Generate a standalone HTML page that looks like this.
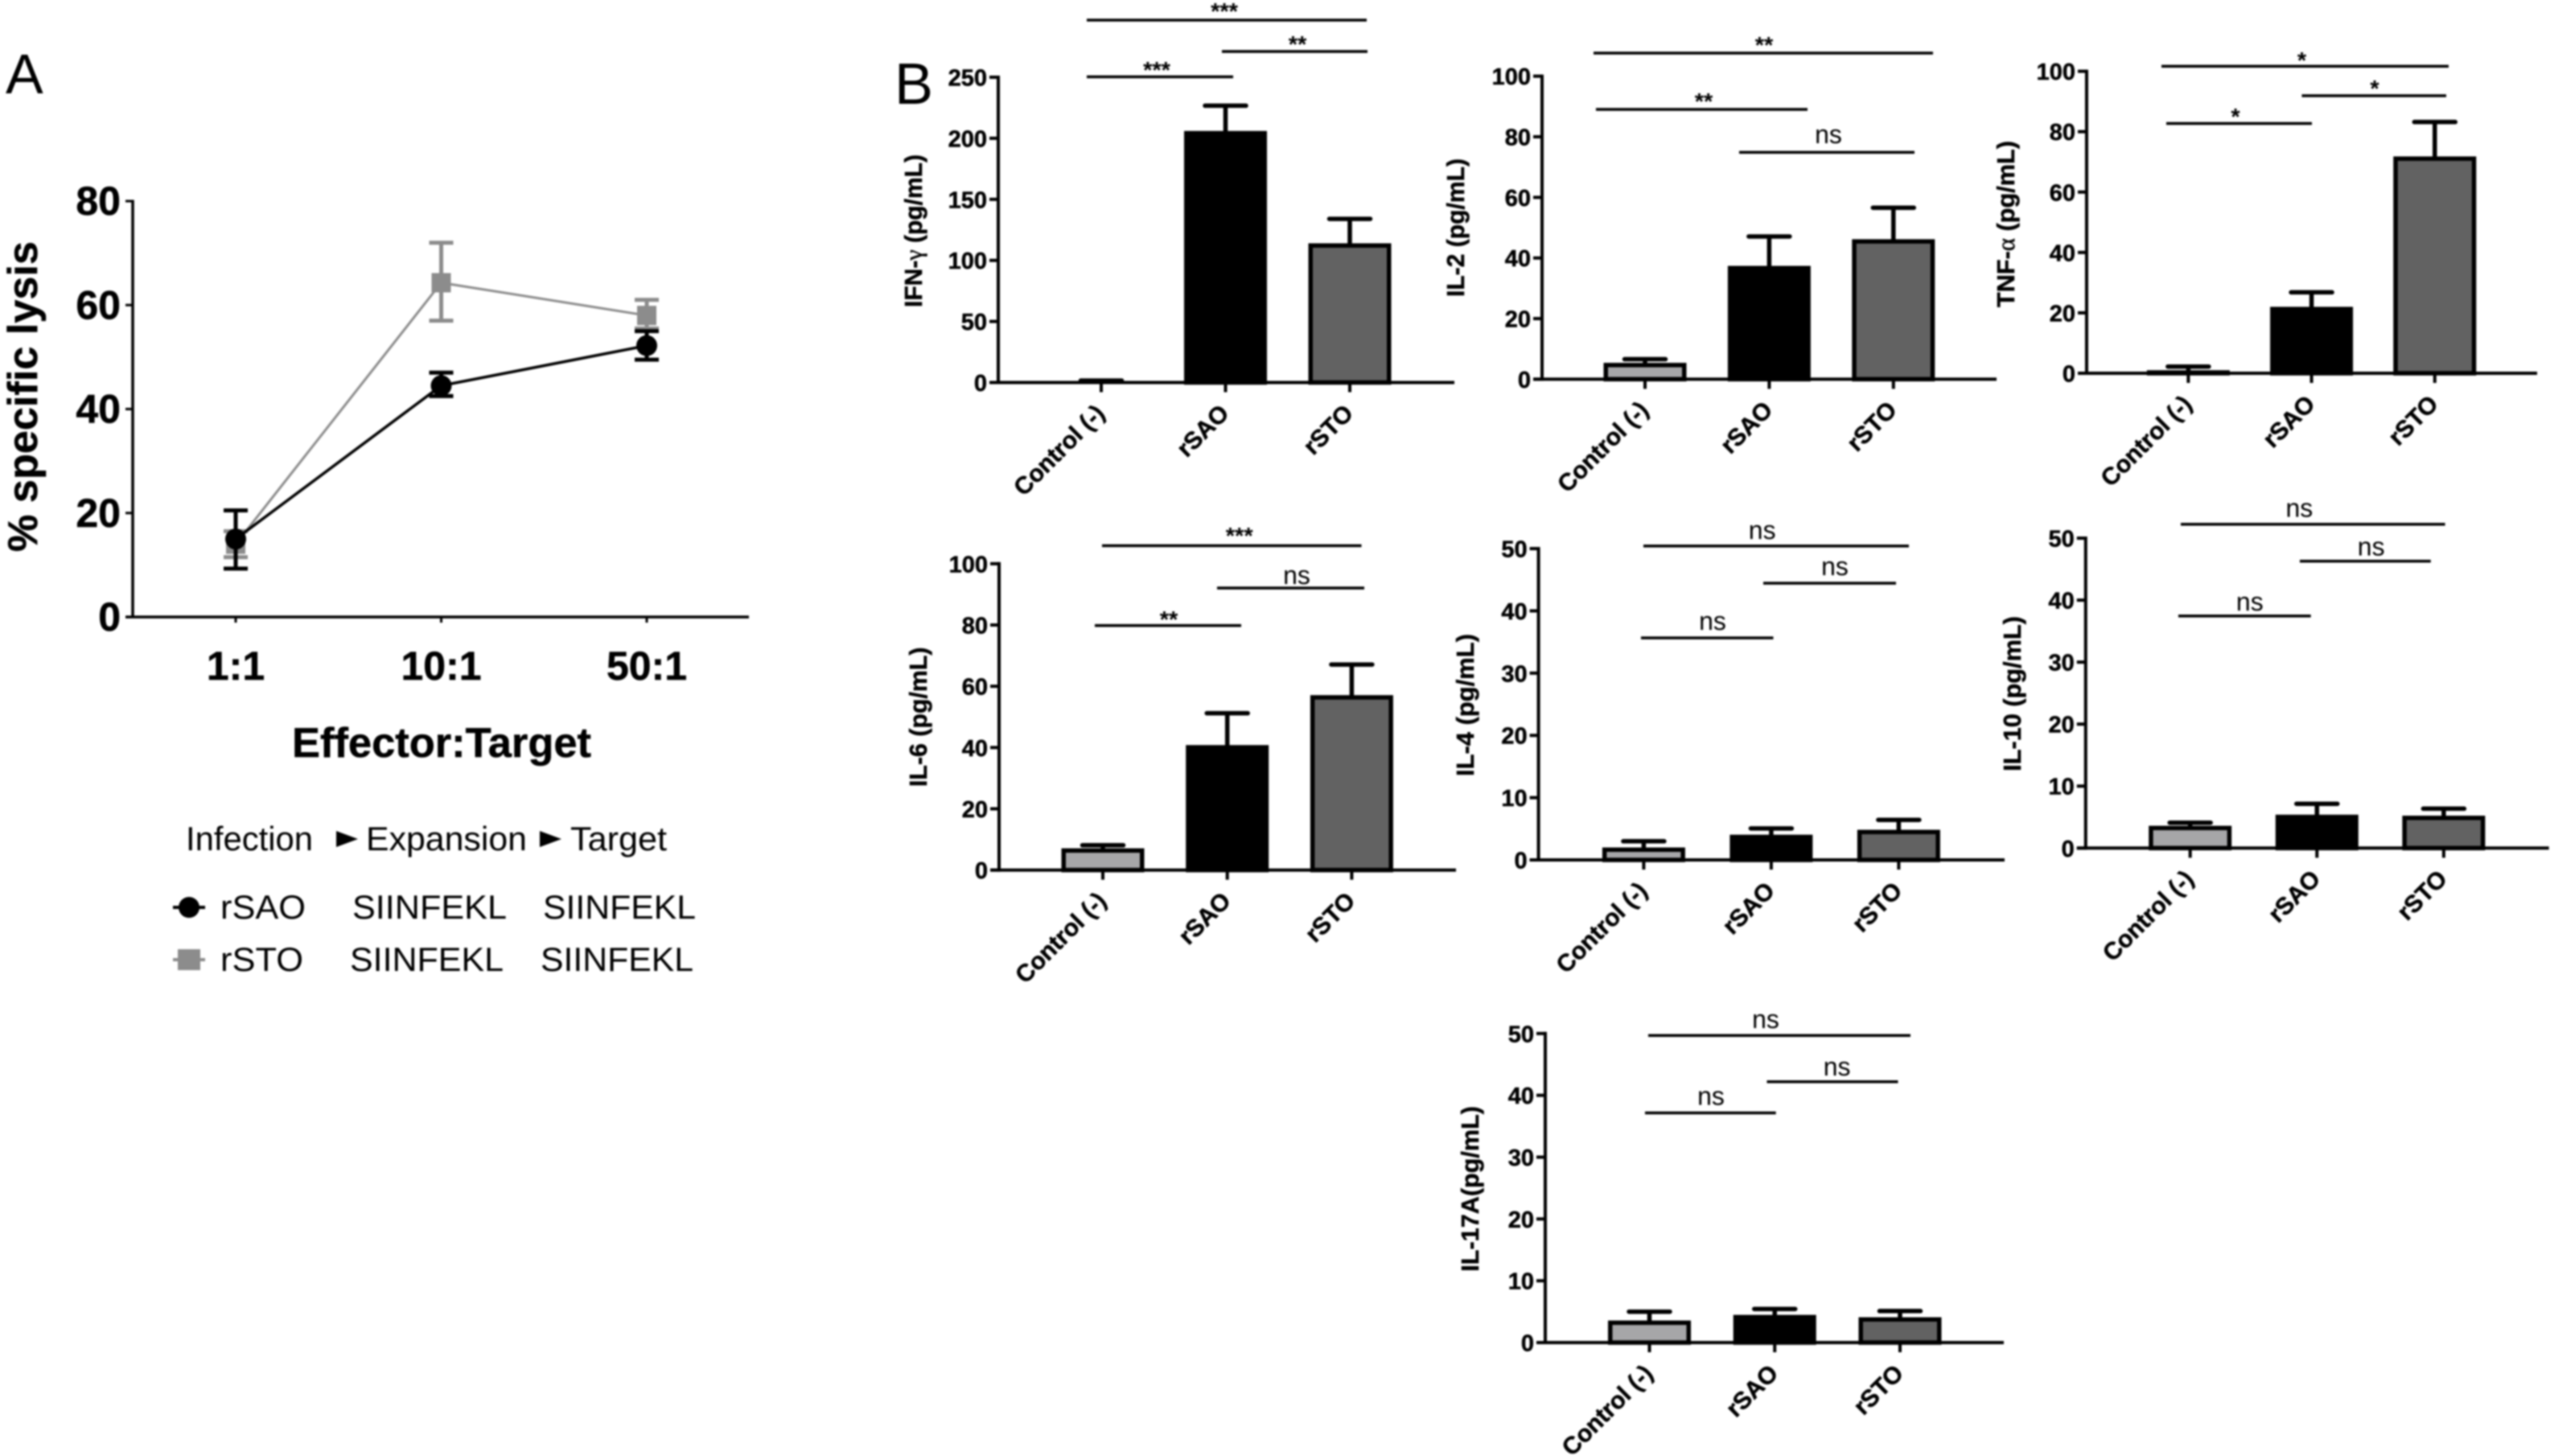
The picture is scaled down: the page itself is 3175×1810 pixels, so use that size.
<!DOCTYPE html>
<html lang="en">
<head>
<meta charset="utf-8">
<title>Specific lysis and cytokine production</title>
<style>
  html, body { margin: 0; padding: 0; background: #fff; }
  #figure { display: block; width: 3175px; height: 1810px; filter: blur(1px); }
  text { font-family: "Liberation Sans", Arial, sans-serif; fill: #000; }
  .bold { font-weight: 700; stroke: #000; stroke-width: 0.5px; }
</style>
</head>
<body>
<svg id="figure" xmlns="http://www.w3.org/2000/svg" width="3175" height="1810" viewBox="0 0 3175 1810">
  <rect x="0" y="0" width="3175" height="1810" fill="#ffffff"/>
  <text x="7" y="116" font-size="70">A</text>
  <text x="1112" y="129" font-size="72">B</text>

  <g id="panel-a"></g>
  <g id="panel-b"></g>

  <g font-size="42">
    <text x="231" y="1057" textLength="158" lengthAdjust="spacingAndGlyphs">Infection</text>
    <polygon points="418,1033 445,1043 418,1053" fill="#000"/>
    <text x="455" y="1057" textLength="200" lengthAdjust="spacingAndGlyphs">Expansion</text>
    <polygon points="671,1033 698,1043 671,1053" fill="#000"/>
    <text x="709" y="1057" textLength="120" lengthAdjust="spacingAndGlyphs">Target</text>

    <line x1="215" y1="1128" x2="255" y2="1128" stroke="#000" stroke-width="4"/>
    <circle cx="235" cy="1128" r="13" fill="#000"/>
    <text x="274" y="1142" textLength="106" lengthAdjust="spacingAndGlyphs">rSAO</text>
    <text x="438" y="1142" textLength="192" lengthAdjust="spacingAndGlyphs">SIINFEKL</text>
    <text x="675" y="1142" textLength="190" lengthAdjust="spacingAndGlyphs">SIINFEKL</text>

    <line x1="215" y1="1193" x2="255" y2="1193" stroke="#8c8c8c" stroke-width="4"/>
    <rect x="221" y="1180" width="28" height="26" fill="#8c8c8c"/>
    <text x="274" y="1207" textLength="103" lengthAdjust="spacingAndGlyphs">rSTO</text>
    <text x="435" y="1207" textLength="191" lengthAdjust="spacingAndGlyphs">SIINFEKL</text>
    <text x="672" y="1207" textLength="190" lengthAdjust="spacingAndGlyphs">SIINFEKL</text>
  </g>
</svg>

<script>
// ---------- Panel A data ----------
const ratioLabels = ['1:1', '10:1', '50:1'];
const lysisTicks = [0, 20, 40, 60, 80];
const rsaoLysis = [15, 44.5, 52.2];
const rsaoLysisHigh = [20.5, 47, 55];
const rsaoLysisLow = [9.3, 42.5, 49.5];
const rstoLysis = [14, 64.3, 58];
const rstoLysisHigh = [16.5, 72, 61];
const rstoLysisLow = [11.5, 57, 55.5];

// ---------- Panel B data ----------
const categories = ['Control (-)', 'rSAO', 'rSTO'];
const ifnTicks = [0, 50, 100, 150, 200, 250];
const ifnMeans = [0.3, 206, 114];
const ifnUpper = [1.6, 226.7, 134];
const il2Ticks = [0, 20, 40, 60, 80, 100];
const il2Means = [5.4, 37.4, 46.2];
const il2Upper = [6.6, 47.1, 56.6];
const tnfTicks = [0, 20, 40, 60, 80, 100];
const tnfMeans = [1, 22, 71.8];
const tnfUpper = [2.2, 26.8, 83.2];
const il6Ticks = [0, 20, 40, 60, 80, 100];
const il6Means = [7.1, 40.8, 57.1];
const il6Upper = [8.1, 51.2, 67.1];
const il4Ticks = [0, 10, 20, 30, 40, 50];
const il4Means = [2, 4.05, 4.84];
const il4Upper = [3, 5.06, 6.43];
const il10Ticks = [0, 10, 20, 30, 40, 50];
const il10Means = [3.6, 5.39, 5.23];
const il10Upper = [4.1, 7.15, 6.36];
const il17Ticks = [0, 10, 20, 30, 40, 50];
const il17Means = [3.57, 4.48, 4.1];
const il17Upper = [5, 5.44, 5.1];

// ---------- Layout (not data) ----------
const barColors = ['#a6a6a8', '#000000', '#626262'];
const panels = [
  { id: 'ifn-gamma', means: ifnMeans, upper: ifnUpper, ticks: ifnTicks,
    frame: { axisX: 1241, endX: 1808, y0: 475.5, yTop: 96, firstX: 1369, stepX: 154.5 },
    title: { before: 'IFN-', greek: 'γ', after: ' (pg/mL)', x: 1146, y1: 382, y2: 192 },
    sig: [
      { x1: 1351, x2: 1699, y: 25, label: '***', lx: 1522, ly: 24 },
      { x1: 1519, x2: 1700, y: 64, label: '**', lx: 1613, ly: 65 },
      { x1: 1351, x2: 1533, y: 95.5, label: '***', lx: 1438, ly: 97 } ] },
  { id: 'il-2', means: il2Means, upper: il2Upper, ticks: il2Ticks,
    frame: { axisX: 1917, endX: 2482, y0: 471.4, yTop: 94.7, firstX: 2045, stepX: 154.4 },
    title: { before: 'IL-2 (pg/mL)', greek: '', after: '', x: 1820, y1: 369, y2: 197 },
    sig: [
      { x1: 1981, x2: 2403, y: 66, label: '**', lx: 2193, ly: 66 },
      { x1: 1984, x2: 2247, y: 136, label: '**', lx: 2118, ly: 136 },
      { x1: 2162, x2: 2380, y: 189.4, label: 'ns', lx: 2273, ly: 178 } ] },
  { id: 'tnf-alpha', means: tnfMeans, upper: tnfUpper, ticks: tnfTicks,
    frame: { axisX: 2594, endX: 3154, y0: 464, yTop: 88.6, firstX: 2720.4, stepX: 153.2 },
    title: { before: 'TNF-', greek: 'α', after: ' (pg/mL)', x: 2504, y1: 382, y2: 175 },
    sig: [
      { x1: 2687, x2: 3044, y: 82.4, label: '*', lx: 2861.5, ly: 85 },
      { x1: 2861.5, x2: 3041, y: 119, label: '*', lx: 2952, ly: 120 },
      { x1: 2693, x2: 2874, y: 153.5, label: '*', lx: 2779, ly: 155 } ] },
  { id: 'il-6', means: il6Means, upper: il6Upper, ticks: il6Ticks,
    frame: { axisX: 1242, endX: 1810, y0: 1081.6, yTop: 700.8, firstX: 1371, stepX: 154.7 },
    title: { before: 'IL-6 (pg/mL)', greek: '', after: '', x: 1152, y1: 978, y2: 804.5 },
    sig: [
      { x1: 1370, x2: 1692.5, y: 678.4, label: '***', lx: 1540.7, ly: 676 },
      { x1: 1513, x2: 1696, y: 731, label: 'ns', lx: 1612, ly: 726 },
      { x1: 1361, x2: 1543, y: 777.6, label: '**', lx: 1453, ly: 780 } ] },
  { id: 'il-4', means: il4Means, upper: il4Upper, ticks: il4Ticks,
    frame: { axisX: 1912.6, endX: 2492, y0: 1069, yTop: 682, firstX: 2043.4, stepX: 158.5 },
    title: { before: 'IL-4 (pg/mL)', greek: '', after: '', x: 1832, y1: 965, y2: 788 },
    sig: [
      { x1: 2043, x2: 2373, y: 678.8, label: 'ns', lx: 2190.7, ly: 669.8 },
      { x1: 2192, x2: 2357, y: 725, label: 'ns', lx: 2281, ly: 715 },
      { x1: 2040, x2: 2204.5, y: 793, label: 'ns', lx: 2129, ly: 783 } ] },
  { id: 'il-10', means: il10Means, upper: il10Upper, ticks: il10Ticks,
    frame: { axisX: 2592.8, endX: 3168.7, y0: 1054.3, yTop: 669, firstX: 2722.7, stepX: 157.6 },
    title: { before: 'IL-10 (pg/mL)', greek: '', after: '', x: 2512, y1: 958.8, y2: 766 },
    sig: [
      { x1: 2711, x2: 3039.6, y: 651.8, label: 'ns', lx: 2858.4, ly: 642.4 },
      { x1: 2859, x2: 3021.8, y: 697.6, label: 'ns', lx: 2947.7, ly: 690.6 },
      { x1: 2708, x2: 2872.7, y: 765.7, label: 'ns', lx: 2796.8, ly: 758.8 } ] },
  { id: 'il-17a', means: il17Means, upper: il17Upper, ticks: il17Ticks,
    frame: { axisX: 1921, endX: 2491, y0: 1669, yTop: 1284.8, firstX: 2050.5, stepX: 155.75 },
    title: { before: 'IL-17A(pg/mL)', greek: '', after: '', x: 1838, y1: 1580.7, y2: 1375 },
    sig: [
      { x1: 2049, x2: 2375, y: 1287.3, label: 'ns', lx: 2195, ly: 1278 },
      { x1: 2196.5, x2: 2359.5, y: 1344.7, label: 'ns', lx: 2283.6, ly: 1337 },
      { x1: 2045, x2: 2207.7, y: 1383.5, label: 'ns', lx: 2127, ly: 1373.5 } ] }
];

// ---------- Helpers ----------
const SVGNS = 'http://www.w3.org/2000/svg';
function make(tag, attrs, parent) {
  const el = document.createElementNS(SVGNS, tag);
  for (const k in attrs) el.setAttribute(k, attrs[k]);
  parent.appendChild(el);
  return el;
}
function makeLinearY(y0, yTop, max) {
  return v => y0 - (v / max) * (y0 - yTop);
}
function makeBandX(first, step) {
  return i => first + i * step;
}

// ---------- Panel A ----------
function drawSeries(root, name, color, lineWidth, xPos, yPos, values, high, low, marker) {
  const g = make('g', {}, root);
  
  
  const line = make('polyline', {
    points: values.map((v, i) => xPos(i) + ',' + yPos(v)).join(' '),
    fill: 'none', stroke: color, 'stroke-width': lineWidth
  }, g);
  
  
  values.forEach((v, i) => {
    const x = xPos(i);
    const err = make('path', {
      d: 'M' + (x - 15) + ' ' + yPos(high[i]) + 'H' + (x + 15) +
         'M' + x + ' ' + yPos(high[i]) + 'V' + yPos(low[i]) +
         'M' + (x - 15) + ' ' + yPos(low[i]) + 'H' + (x + 15),
      fill: 'none', stroke: color, 'stroke-width': 5
    }, g);
    
    
    let m;
    if (marker === 'circle') {
      m = make('circle', { cx: x, cy: yPos(v), r: 13, fill: color }, g);
    } else {
      m = make('rect', { x: x - 12, y: yPos(v) - 12, width: 24, height: 24, fill: color }, g);
    }
    
    
  });
}

function drawPanelA() {
  const root = document.getElementById('panel-a');
  const axisX = 165, endX = 931, y0 = 767, yTop = 250;
  const yPos = makeLinearY(y0, yTop, 80);
  const xPos = makeBandX(293, 255.5);

  const yAxis = make('line', { x1: axisX, y1: yTop - 1.5, x2: axisX, y2: y0 + 1.5, stroke: '#000', 'stroke-width': 3.5 }, root);
  
  
  const xAxis = make('line', { x1: axisX - 9, y1: y0, x2: endX, y2: y0, stroke: '#000', 'stroke-width': 3.5 }, root);
  
  

  lysisTicks.forEach(t => {
    const tick = make('line', { x1: axisX - 9, y1: yPos(t), x2: axisX, y2: yPos(t), stroke: '#000', 'stroke-width': 3 }, root);
    
    
    const label = make('text', { x: 150, y: yPos(t) + 17, 'text-anchor': 'end', 'font-size': 50, class: 'bold' }, root);
    label.textContent = String(t);
    
    
  });
  ratioLabels.forEach((r, i) => {
    const tick = make('line', { x1: xPos(i), y1: y0, x2: xPos(i), y2: y0 + 7, stroke: '#000', 'stroke-width': 3 }, root);
    
    
    const label = make('text', { x: xPos(i), y: 845, 'text-anchor': 'middle', 'font-size': 50, class: 'bold' }, root);
    label.textContent = r;
    
    
  });

  const xTitle = make('text', { x: 363, y: 941, 'font-size': 52, class: 'bold', textLength: 372, lengthAdjust: 'spacingAndGlyphs' }, root);
  xTitle.textContent = 'Effector:Target';
  
  
  const yTitle = make('text', { transform: 'translate(46 686) rotate(-90)', 'font-size': 52, class: 'bold', textLength: 386, lengthAdjust: 'spacingAndGlyphs' }, root);
  yTitle.textContent = '% specific lysis';
  
  

  drawSeries(root, 'rsto', '#8c8c8c', 3, xPos, yPos, rstoLysis, rstoLysisHigh, rstoLysisLow, 'square');
  drawSeries(root, 'rsao', '#000000', 3.5, xPos, yPos, rsaoLysis, rsaoLysisHigh, rsaoLysisLow, 'circle');
}

// ---------- Panel B ----------
function drawCytokine(p, container) {
  const f = p.frame;
  const maxTick = p.ticks[p.ticks.length - 1];
  const yPos = makeLinearY(f.y0, f.yTop, maxTick);
  const xPos = makeBandX(f.firstX, f.stepX);
  const g = make('g', {}, container);
  
  

  // bars and error bars first, axes on top
  p.means.forEach((v, i) => {
    const x = xPos(i);
    const stem = make('path', {
      d: 'M' + x + ' ' + yPos(v) + 'V' + yPos(p.upper[i]) +
         'M' + (x - 25.5) + ' ' + yPos(p.upper[i]) + 'H' + (x + 25.5),
      fill: 'none', stroke: '#000', 'stroke-width': 5.5, 'stroke-linecap': 'round'
    }, g);
    
    
    const top = Math.min(yPos(v) + 2.75, f.y0);
    const bar = make('rect', {
      x: x - 48.75, y: top, width: 97.5, height: f.y0 - top,
      fill: barColors[i], stroke: '#000', 'stroke-width': 5.5
    }, g);
    
    
  });

  const yAxis = make('line', { x1: f.axisX, y1: f.yTop - 2, x2: f.axisX, y2: f.y0 + 2, stroke: '#000', 'stroke-width': 4 }, g);
  
  
  const xAxis = make('line', { x1: f.axisX - 11, y1: f.y0, x2: f.endX, y2: f.y0, stroke: '#000', 'stroke-width': 4 }, g);
  
  

  p.ticks.forEach(t => {
    const tick = make('line', { x1: f.axisX - 11, y1: yPos(t), x2: f.axisX, y2: yPos(t), stroke: '#000', 'stroke-width': 4 }, g);
    
    
    const label = make('text', { x: f.axisX - 14, y: yPos(t) + 10.5, 'text-anchor': 'end', 'font-size': 29, class: 'bold' }, g);
    label.textContent = String(t);
    
    
  });

  categories.forEach((c, i) => {
    const x = xPos(i);
    const tick = make('line', { x1: x, y1: f.y0, x2: x, y2: f.y0 + 12, stroke: '#000', 'stroke-width': 4 }, g);
    
    
    const label = make('text', {
      transform: 'translate(' + (x + 6) + ' ' + (f.y0 + 40) + ') rotate(-45)',
      'text-anchor': 'end', 'font-size': 30, class: 'bold'
    }, g);
    label.textContent = c;
    
    
  });

  const t = p.title;
  const title = make('text', {
    transform: 'translate(' + t.x + ' ' + t.y1 + ') rotate(-90)',
    'font-size': 31, class: 'bold', textLength: t.y1 - t.y2, lengthAdjust: 'spacingAndGlyphs'
  }, g);
  
  
  title.appendChild(document.createTextNode(t.before));
  if (t.greek) {
    const greek = make('tspan', { 'font-weight': 400, 'font-family': '"Liberation Serif", serif' }, title);
    greek.textContent = t.greek;
  }
  if (t.after) title.appendChild(document.createTextNode(t.after));

  p.sig.forEach(s => {
    const line = make('line', { x1: s.x1, y1: s.y, x2: s.x2, y2: s.y, stroke: '#000', 'stroke-width': 3.5 }, g);
    
    
    const isNs = s.label === 'ns';
    const label = make('text', {
      x: s.lx, y: s.ly, 'text-anchor': 'middle',
      'font-size': isNs ? 32 : 29, 'font-weight': isNs ? 400 : 700
    }, g);
    label.textContent = s.label;
    
    
  });
}

drawPanelA();
panels.forEach(p => drawCytokine(p, document.getElementById('panel-b')));
</script>
</body>
</html>
